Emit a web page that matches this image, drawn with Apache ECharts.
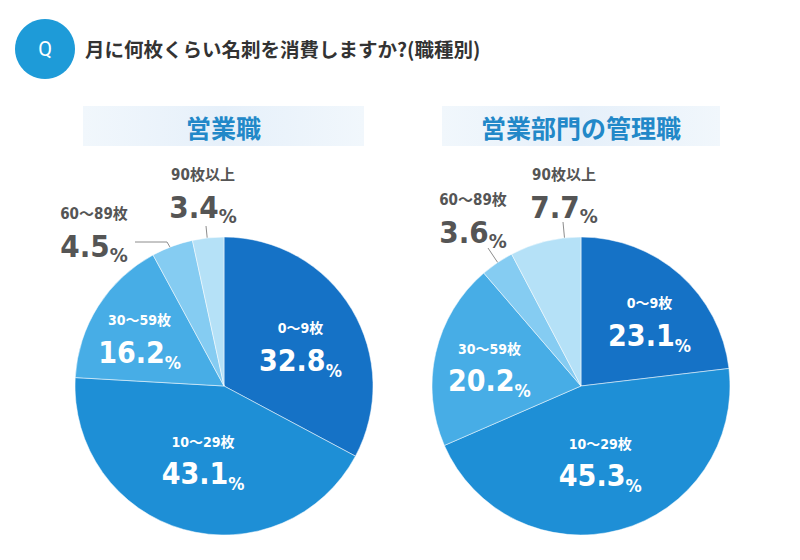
<!DOCTYPE html>
<html>
<head>
<meta charset="utf-8">
<script src="https://cdn.jsdelivr.net/npm/echarts@6/dist/echarts.min.js"></script>
<style>
  html, body { margin: 0; padding: 0; background: #fff; }
  #main { width: 800px; height: 560px; }
</style>
</head>
<body>
<div id="main"></div>
<script>
// data
const categories = ['0～9枚', '10～29枚', '30～59枚', '60～89枚', '90枚以上'];
const salesValues = [32.8, 43.1, 16.2, 4.5, 3.4];
const managerValues = [23.1, 45.3, 20.2, 3.6, 7.7];
const groupNames = ['営業職', '営業部門の管理職'];
const questionText = '月に何枚くらい名刺を消費しますか?(職種別)';

// styling / placement
const sliceColors = ['#1572C6', '#1E8FD6', '#47ADE6', '#85CCF2', '#B5E1F7'];
const outerIdx = [3, 4];
const numFont = '"DejaVu Sans Condensed", "Noto Sans CJK JP", sans-serif';
const jpFont = '"Noto Sans CJK JP", sans-serif';

// per pie: center, inner label nudges, outer label spots + leader lines
const pieLayouts = [
  {
    center: [224, 386],
    inner: { 0: [10, 1], 1: [0, 0], 2: [-19, -5] },
    outer: {
      3: { x: 94, y: 233, line: [[177, 259], [167, 242], [135, 242]] },
      4: { x: 203, y: 194, line: [[209, 256], [207.5, 241], [206, 226]] }
    }
  },
  {
    center: [581, 386],
    inner: { 0: [17, -6], 1: [-1, 2], 2: [-16, -1] },
    outer: {
      3: { x: 473, y: 219, line: [[505, 273], [496, 260], [488, 248]] },
      4: { x: 564, y: 194, line: [[566, 255], [564.5, 238], [563, 222]] }
    }
  }
];

function richFor(color, cSize, vSize, pSize) {
  return {
    c: { fontFamily: numFont, fontWeight: 'bold', fontSize: cSize, color: color, lineHeight: 26 },
    v: { fontFamily: numFont, fontWeight: 'bold', fontSize: vSize, color: color, lineHeight: 38 },
    p: { fontFamily: numFont, fontWeight: 'bold', fontSize: pSize, color: color, lineHeight: 30, verticalAlign: 'bottom' }
  };
}
const innerRich = richFor('#fff', 14, 30, 18);
const outerRich = richFor('#555', 15, 31, 20);

function buildPie(values, idx) {
  const lay = pieLayouts[idx];
  return {
    type: 'pie',
    center: lay.center,
    radius: 149,
    startAngle: 90,
    clockwise: true,
    avoidLabelOverlap: false,
    animation: false,
    silent: true,
    itemStyle: { borderColor: '#fff', borderWidth: 0.5 },
    data: values.map((v, i) => {
      const outer = outerIdx.includes(i);
      return {
        name: categories[i],
        value: v,
        itemStyle: { color: sliceColors[i] },
        label: {
          show: true,
          position: outer ? 'outside' : 'inside',
          formatter: '{c|' + categories[i] + '}\n{v|' + v.toFixed(1) + '}{p|%}',
          rich: outer ? outerRich : innerRich
        },
        labelLine: { show: outer, lineStyle: { color: '#8c8c8c', width: 1 } }
      };
    }),
    labelLayout: function (p) {
      const o = lay.outer[p.dataIndex];
      if (o) {
        return { x: o.x, y: o.y, align: 'center', verticalAlign: 'middle', labelLinePoints: o.line };
      }
      const d = lay.inner[p.dataIndex];
      return { dx: d[0], dy: d[1] };
    }
  };
}

function headerBox(cx, w, text) {
  return {
    type: 'group',
    children: [
      {
        type: 'rect',
        shape: { x: cx - w / 2, y: 106, width: w, height: 40 },
        style: {
          fill: new echarts.graphic.LinearGradient(0, 0, 1, 0, [
            { offset: 0, color: '#F1F7FC' },
            { offset: 0.5, color: '#E6F0FA' },
            { offset: 1, color: '#F1F7FC' }
          ])
        }
      },
      {
        type: 'text',
        x: cx, y: 127,
        style: {
          text: text, fill: '#2288C8', fontFamily: jpFont, fontWeight: 'bold', fontSize: 25,
          align: 'center', verticalAlign: 'middle'
        }
      }
    ]
  };
}

const chart = echarts.init(document.getElementById('main'), null, { renderer: 'svg' });
chart.setOption({
  backgroundColor: '#fff',
  animation: false,
  graphic: [
    { type: 'circle', shape: { cx: 45, cy: 49, r: 30 }, style: { fill: '#1E9BD8' } },
    {
      type: 'text', x: 45, y: 49,
      style: { text: 'Q', fill: '#fff', fontFamily: 'Roboto', fontSize: 20, align: 'center', verticalAlign: 'middle' }
    },
    {
      type: 'text', x: 85, y: 48,
      style: { text: questionText, fill: '#333', fontFamily: jpFont, fontWeight: 'bold', fontSize: 19.5, verticalAlign: 'middle' }
    },
    headerBox(223.5, 281, groupNames[0]),
    headerBox(581, 278, groupNames[1])
  ],
  series: [buildPie(salesValues, 0), buildPie(managerValues, 1)]
});
</script>
</body>
</html>
